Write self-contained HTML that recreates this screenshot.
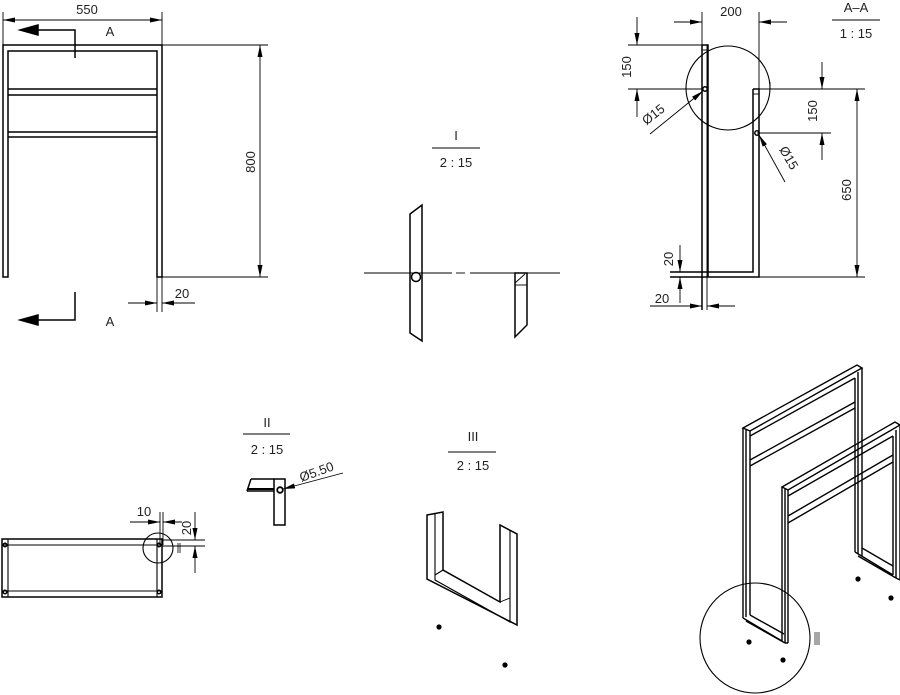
<!DOCTYPE html>
<html><head><meta charset="utf-8"><style>
html,body{margin:0;padding:0;background:#fff;}
svg{display:block;}
text{font-family:"Liberation Sans",sans-serif;font-size:13px;fill:#222;}
</style></head><body>
<svg width="900" height="695" viewBox="0 0 900 695" xmlns="http://www.w3.org/2000/svg">
<defs>
<marker id="ar" viewBox="0 0 12 5" refX="12" refY="2.5" markerWidth="12" markerHeight="5" markerUnits="userSpaceOnUse" orient="auto-start-reverse"><path d="M0,0 L12,2.5 L0,5 z" fill="#000"/></marker>
</defs>
<g stroke="#000" stroke-width="1.5" fill="none">
<!-- Front view -->
<path d="M3,277 V45 H162 V277 H157 V51 H8 V277 Z"/>
<line x1="8" y1="89" x2="157" y2="89"/><line x1="8" y1="95" x2="157" y2="95"/>
<line x1="8" y1="132" x2="157" y2="132"/><line x1="8" y1="137" x2="157" y2="137"/>
<line x1="3" y1="12" x2="3" y2="45" stroke-width="0.9"/><line x1="162" y1="12" x2="162" y2="312" stroke-width="0.9"/>
<line x1="157" y1="277" x2="157" y2="312" stroke-width="0.9"/>
<line x1="3" y1="20" x2="162" y2="20" stroke-width="0.9" marker-start="url(#ar)" marker-end="url(#ar)"/>
<polyline points="75,58 75,30 35,30" stroke-width="1.5"/>
<path d="M20,30 L38,25 L38,35 Z" fill="#000"/>
<polyline points="75,292 75,320 35,320" stroke-width="1.5"/>
<path d="M20,320 L38,315 L38,325 Z" fill="#000"/>
<line x1="162" y1="45" x2="268" y2="45" stroke-width="0.9"/><line x1="157" y1="277" x2="268" y2="277" stroke-width="0.9"/>
<line x1="260" y1="45" x2="260" y2="277" stroke-width="0.9" marker-start="url(#ar)" marker-end="url(#ar)"/>
<line x1="128" y1="303" x2="157" y2="303" stroke-width="0.9" marker-end="url(#ar)"/>
<line x1="195" y1="303" x2="162" y2="303" stroke-width="0.9" marker-end="url(#ar)"/>

<!-- Section A-A -->
<path d="M702,45 H708 V277"/><line x1="702" y1="45" x2="702" y2="310"/><line x1="707" y1="45" x2="707" y2="310" stroke-width="0.9"/>
<line x1="702" y1="50" x2="708" y2="50" stroke-width="0.9"/>
<path d="M753,89 H759 V277 H670"/><path d="M753,89 V272 H670"/>
<line x1="753" y1="94" x2="759" y2="94" stroke-width="0.9"/>
<circle cx="728" cy="88" r="42" stroke-width="1.1"/>
<line x1="770" y1="82" x2="770" y2="90" stroke-width="0.9"/>
<line x1="702" y1="12" x2="702" y2="45" stroke-width="0.9"/><line x1="759" y1="12" x2="759" y2="89" stroke-width="0.9"/>
<line x1="674" y1="22" x2="702" y2="22" stroke-width="0.9" marker-end="url(#ar)"/>
<line x1="787" y1="22" x2="759" y2="22" stroke-width="0.9" marker-end="url(#ar)"/>
<line x1="832" y1="20" x2="880" y2="20" stroke-width="0.9"/>
<line x1="628" y1="45" x2="708" y2="45" stroke-width="0.9"/><line x1="628" y1="89" x2="703" y2="89" stroke-width="0.9"/>
<line x1="637" y1="17" x2="637" y2="45" stroke-width="0.9" marker-end="url(#ar)"/>
<line x1="637" y1="117" x2="637" y2="89" stroke-width="0.9" marker-end="url(#ar)"/>
<circle cx="705" cy="89" r="2.2"/><circle cx="757" cy="133" r="2.2"/>
<line x1="650" y1="134" x2="703" y2="91" stroke-width="0.9" marker-end="url(#ar)"/>
<line x1="785" y1="182" x2="759" y2="135" stroke-width="0.9" marker-end="url(#ar)"/>
<line x1="759" y1="89" x2="865" y2="89" stroke-width="0.9"/><line x1="757" y1="133" x2="831" y2="133" stroke-width="0.9"/>
<line x1="759" y1="277" x2="865" y2="277" stroke-width="0.9"/>
<line x1="822" y1="62" x2="822" y2="89" stroke-width="0.9" marker-end="url(#ar)"/>
<line x1="822" y1="160" x2="822" y2="133" stroke-width="0.9" marker-end="url(#ar)"/>
<line x1="857" y1="89" x2="857" y2="277" stroke-width="0.9" marker-start="url(#ar)" marker-end="url(#ar)"/>
<line x1="680" y1="245" x2="680" y2="272" stroke-width="0.9" marker-end="url(#ar)"/>
<line x1="680" y1="303" x2="680" y2="277" stroke-width="0.9" marker-end="url(#ar)"/>
<line x1="650" y1="306" x2="702" y2="306" stroke-width="0.9" marker-end="url(#ar)"/>
<line x1="735" y1="306" x2="707" y2="306" stroke-width="0.9" marker-end="url(#ar)"/>

<!-- Detail I -->
<line x1="432" y1="148" x2="480" y2="148" stroke-width="0.9"/>
<path d="M410,214 L422,205 V341 L410,333 Z"/>
<line x1="364" y1="273" x2="452" y2="273" stroke-width="0.9"/>
<line x1="456" y1="273" x2="465" y2="273" stroke-width="0.9"/>
<line x1="470" y1="273" x2="560" y2="273" stroke-width="0.9"/>
<circle cx="416" cy="277" r="4.5"/>
<path d="M515,273 H527 V325 L515,337 Z"/>
<line x1="515" y1="285" x2="527" y2="285" stroke-width="0.9"/><line x1="515" y1="283" x2="525" y2="274" stroke-width="0.9"/>

<!-- Top view bottom-left -->
<rect x="2" y="539" width="160" height="58"/>
<path d="M8,597 V539 M157,597 V539 M2,545 H162 M2,591 H162" stroke-width="1.1"/>
<circle cx="5" cy="545" r="1.8"/><circle cx="5" cy="592" r="1.8"/><circle cx="159" cy="545" r="1.8"/><circle cx="159" cy="592" r="1.8"/>
<circle cx="158" cy="548" r="15" stroke-width="1.1"/>
<line x1="178" y1="543" x2="178" y2="553" stroke-width="0.8"/><line x1="180" y1="543" x2="180" y2="553" stroke-width="0.8"/>
<line x1="160" y1="512" x2="160" y2="545" stroke-width="0.9"/><line x1="163" y1="512" x2="163" y2="545" stroke-width="0.9"/>
<line x1="130" y1="522" x2="160" y2="522" stroke-width="0.9" marker-end="url(#ar)"/>
<line x1="182" y1="522" x2="163" y2="522" stroke-width="0.9" marker-end="url(#ar)"/>
<line x1="162" y1="540" x2="205" y2="540" stroke-width="0.9"/><line x1="162" y1="546" x2="205" y2="546" stroke-width="0.9"/>
<line x1="195" y1="512" x2="195" y2="540" stroke-width="0.9" marker-end="url(#ar)"/>
<line x1="195" y1="573" x2="195" y2="546" stroke-width="0.9" marker-end="url(#ar)"/>

<!-- Detail II -->
<line x1="243" y1="434" x2="290" y2="434" stroke-width="0.9"/>
<rect x="274" y="479" width="11" height="46"/>
<path d="M251,479 H274 M247,491 H274 M251,479 L247,491"/>
<line x1="248" y1="489" x2="274" y2="489" stroke-width="2"/>
<circle cx="280" cy="490" r="2.8" stroke-width="1.8"/>
<line x1="343" y1="473" x2="283" y2="489" stroke-width="0.9" marker-end="url(#ar)"/>

<!-- Detail III -->
<line x1="448" y1="452" x2="496" y2="452" stroke-width="0.9"/>
<path d="M427,515 L443,512 V570 L500,602 V525 L517,534 V625 L427,579 Z"/>
<path d="M435,513 V580 L510,622 V530 M443,570 L435,575" stroke-width="1.1"/>
<line x1="500" y1="602" x2="510" y2="598" stroke-width="0.9"/>

<!-- Isometric -->
<g stroke-width="1.4">
<path d="M743,428 L857,365 L862,368 L750,431 Z"/>
<line x1="750" y1="436" x2="855" y2="378"/>
<path d="M743,428 V618 M750,431 V615 M746,430 V617"/>
<path d="M855,378 V552 M862,368 V556 M858,372 V554"/>
<path d="M750,460 L855,402 M750,466 L855,408"/>
<path d="M743,618 L782,641 M750,615 L784,634 M746,621 L785,643"/>
<path d="M855,552 L893,575 M862,548 L893,566 M858,556 L896,578"/>
<path d="M782,487 L895,422 L900,425 L788,490 Z"/>
<line x1="788" y1="496" x2="893" y2="436"/>
<path d="M782,487 V641 M788,490 V643 M785,489 V643 M785,643 L788,643"/>
<path d="M893,436 V575 M900,425 V580 M896,430 V578 M896,578 L900,580"/>
<path d="M788,516 L893,455 M788,523 L893,462"/>
</g>
<circle cx="755" cy="638" r="55" stroke-width="1.1"/>
<path d="M815,632 V645 M817,632 V645 M819,632 V645" stroke-width="0.7"/>
</g>
<g fill="#000">
<circle cx="439" cy="627" r="2.6"/><circle cx="505" cy="665" r="2.6"/>
<circle cx="858" cy="579" r="2.6"/><circle cx="891" cy="598" r="2.6"/>
<circle cx="749" cy="642" r="2.6"/><circle cx="783" cy="660" r="2.6"/>
</g>

<g>
<text x="87" y="14" text-anchor="middle">550</text>
<text x="110" y="36" text-anchor="middle" font-size="12">A</text>
<text x="110" y="326" text-anchor="middle" font-size="12">A</text>
<text transform="translate(255,162) rotate(-90)" text-anchor="middle" font-size="12">800</text>
<text x="182" y="298" text-anchor="middle" font-size="12">20</text>
<text x="731" y="16" text-anchor="middle">200</text>
<text x="856" y="12" text-anchor="middle" font-size="12">A–A</text>
<text x="856" y="38" text-anchor="middle" font-size="12">1 : 15</text>
<text transform="translate(631,67) rotate(-90)" text-anchor="middle" font-size="12">150</text>
<text transform="translate(656,118) rotate(-38)" text-anchor="middle">Ø15</text>
<text transform="translate(785,160) rotate(60)" text-anchor="middle">Ø15</text>
<text transform="translate(817,111) rotate(-90)" text-anchor="middle" font-size="12">150</text>
<text transform="translate(851,190) rotate(-90)" text-anchor="middle" font-size="12">650</text>
<text transform="translate(673,259) rotate(-90)" text-anchor="middle" font-size="12">20</text>
<text x="662" y="303" text-anchor="middle" font-size="12">20</text>
<text x="456" y="140" text-anchor="middle" font-size="12">I</text>
<text x="456" y="167" text-anchor="middle" font-size="12">2 : 15</text>
<text x="144" y="516" text-anchor="middle" font-size="12">10</text>
<text transform="translate(191,528) rotate(-90)" text-anchor="middle" font-size="12">20</text>
<text x="267" y="427" text-anchor="middle" font-size="12">II</text>
<text x="267" y="454" text-anchor="middle" font-size="12">2 : 15</text>
<text transform="translate(318,476) rotate(-20)" text-anchor="middle">Ø5.50</text>
<text x="473" y="441" text-anchor="middle" font-size="12">III</text>
<text x="473" y="470" text-anchor="middle" font-size="12">2 : 15</text>
</g>
</svg>
</body></html>
